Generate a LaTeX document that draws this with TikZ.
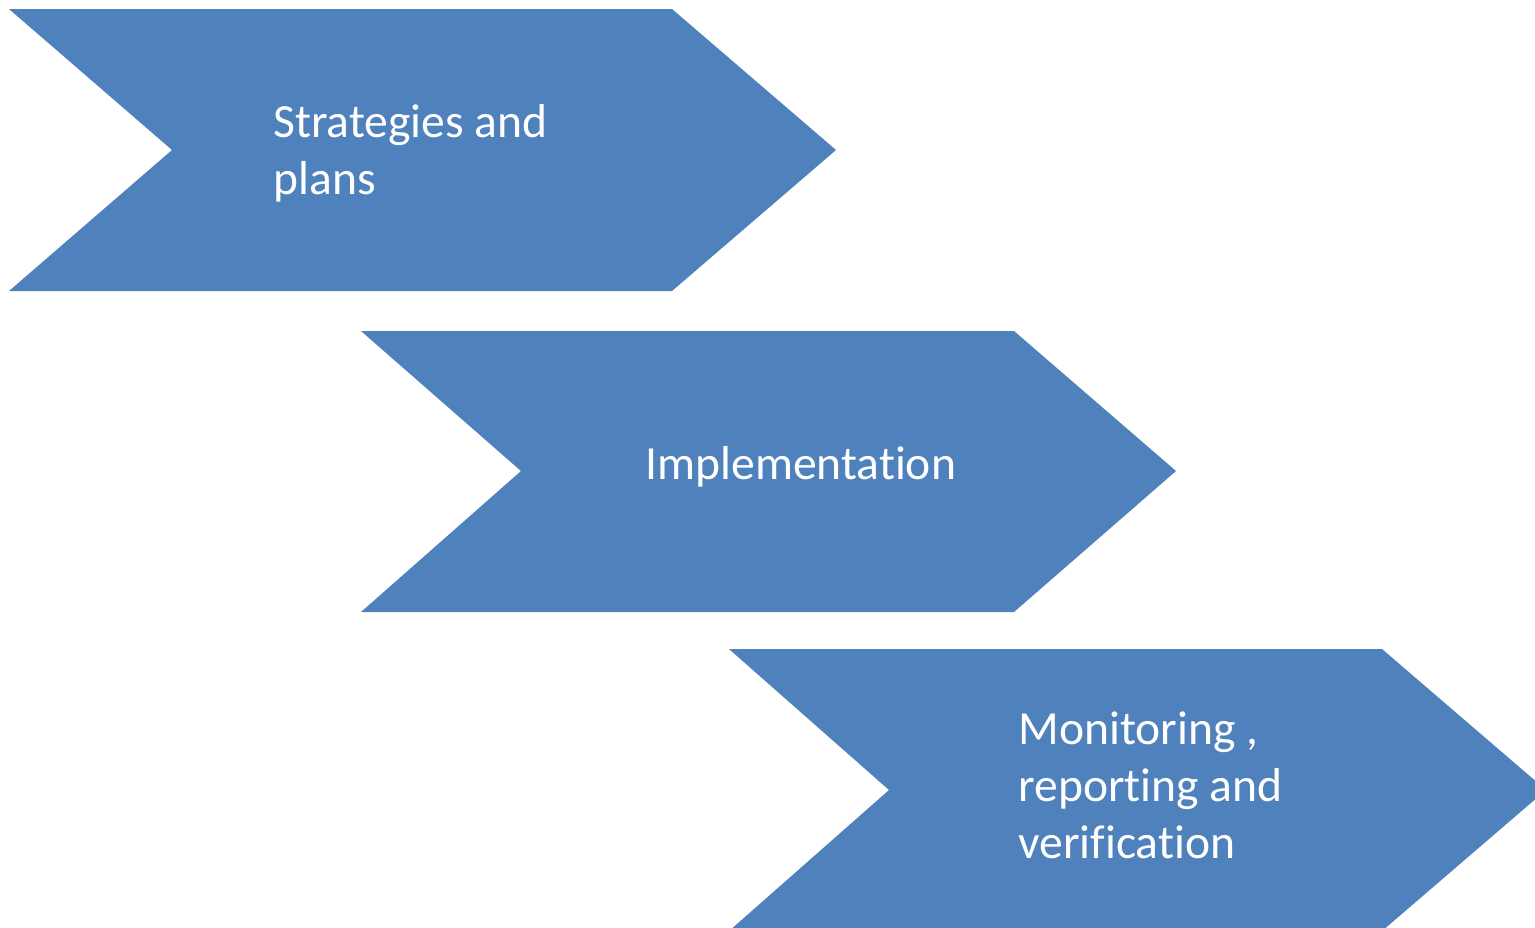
\documentclass[tikz,border=0pt]{standalone}
\usepackage{fontspec}
\setmainfont{Carlito}[Ligatures={NoCommon}]

\definecolor{chevblue}{HTML}{4F81BD}

\tikzset{
  chevron/.style={fill=chevblue, draw=none},
  steplabel/.style={anchor=west, align=left, inner sep=0pt, text=white,
    font=\fontsize{23.8}{28.5}\selectfont}
}

\begin{document}
\begin{tikzpicture}[x=0.5pt, y=-0.5pt]

\useasboundingbox (0,0) rectangle (1535,927);
\clip (0,0) rectangle (1535,927);

% drei Pfeile, jeweils nach rechts unten versetzt
\fill[chevron] (9,9) -- (672,9) -- (836,150) -- (672,291) -- (9,291) -- (172,150) -- cycle;
\fill[chevron] (361,331) -- (1014,331) -- (1176,471) -- (1014,612) -- (361,612) -- (521,471) -- cycle;
\fill[chevron] (729,649) -- (1382,649) -- (1546,790) -- (1382,931) -- (729,931) -- (889,790) -- cycle;

\node[steplabel] (plans) at (273,153) {Strategies and\\plans};
\node[steplabel] (impl) at (645,467) {Implementation};
\node[steplabel] (mrv) at (1018,785) {Monitoring ,\\reporting and\\verification};

\end{tikzpicture}
\end{document}
